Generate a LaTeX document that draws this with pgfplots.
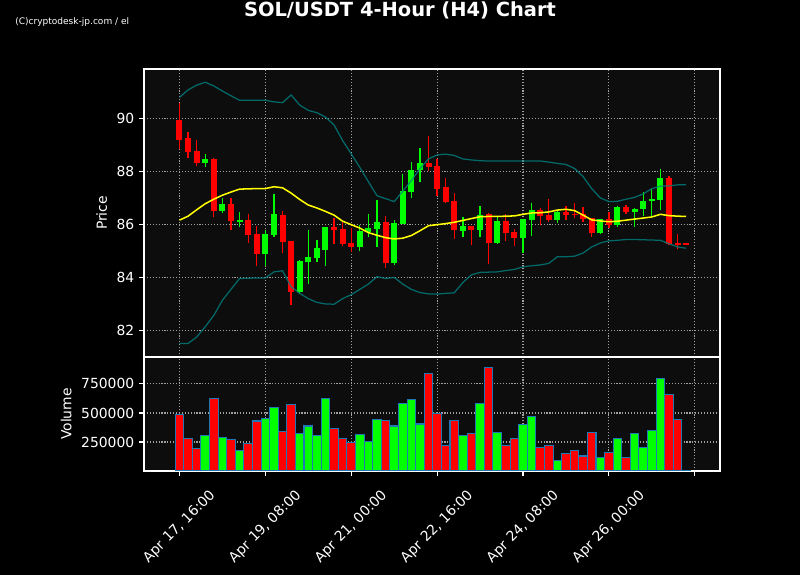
\documentclass[border=0pt]{standalone}
\usepackage{fontspec}
\setmainfont{DejaVu Sans}
\usepackage{pgfplots}
\pgfplotsset{compat=1.18}
\usepackage{pgfplotstable}

\definecolor{upgreen}{RGB}{0,255,0}
\definecolor{downred}{RGB}{255,0,0}
\definecolor{bbteal}{RGB}{0,128,128}
\definecolor{smayellow}{RGB}{255,255,0}
\definecolor{axbg}{RGB}{13,13,13}
\definecolor{gridgray}{RGB}{160,160,160}
\definecolor{edgeblue}{RGB}{31,119,180}

% candles: index, open, high, low, close, volume
\pgfplotstableread{
i o h l c v
3 88.33 88.65 88.15 88.47 302000
5 86.52 86.98 86.42 86.77 290000
7 86.09 86.45 85.91 86.18 178000
10 84.89 85.79 84.44 85.64 454000
11 85.60 87.13 85.53 86.39 549000
14 83.46 84.65 83.37 84.62 325000
15 84.59 85.77 83.77 84.77 388000
16 84.74 85.40 84.57 85.11 302000
17 85.04 85.92 84.44 85.90 627000
21 85.16 85.99 85.00 85.75 316000
22 85.72 86.38 85.53 85.87 256000
23 85.84 86.91 85.16 86.09 445000
25 84.54 86.16 84.45 86.05 388000
26 86.01 87.89 86.00 87.26 583000
27 87.23 88.35 86.98 88.05 618000
28 88.05 88.87 87.58 88.33 405000
33 85.76 86.26 85.51 85.95 307000
35 85.80 86.69 85.53 86.35 583000
37 85.30 86.26 85.27 86.13 333000
40 85.50 86.20 84.94 86.20 402000
41 86.18 86.79 85.55 86.54 471000
44 86.18 86.49 86.04 86.47 92000
49 85.69 86.19 85.62 86.19 118000
51 85.97 86.71 85.91 86.65 282000
53 86.47 86.63 85.91 86.58 325000
54 86.57 87.21 86.32 86.88 204000
55 86.89 87.32 86.28 86.97 351000
56 86.93 88.08 86.53 87.75 799000
}\upcandles

\pgfplotstableread{
i o h l c v
0 89.94 90.57 88.84 89.18 489000
1 89.26 89.47 88.49 88.74 282000
2 88.77 89.17 88.21 88.33 196000
4 88.47 88.50 86.29 86.52 627000
6 86.77 86.98 85.79 86.14 273000
8 86.16 86.38 85.31 85.60 233000
9 85.64 85.95 84.44 84.89 431000
12 86.35 86.49 84.91 85.35 342000
13 85.37 85.39 82.96 83.46 575000
18 85.90 86.23 85.25 85.80 368000
19 85.82 86.13 85.19 85.26 282000
20 85.30 85.85 84.97 85.16 247000
24 86.09 86.30 84.34 84.54 437000
29 88.31 89.33 88.01 88.16 836000
30 88.20 88.45 87.08 87.33 497000
31 87.41 87.74 86.82 86.84 216000
32 86.88 87.17 85.46 85.79 437000
34 85.95 85.95 85.21 85.80 325000
36 86.40 86.42 84.49 85.30 894000
38 86.13 86.38 85.38 85.69 221000
39 85.71 85.81 85.17 85.50 282000
42 86.53 86.62 85.96 86.33 204000
43 86.35 86.94 86.10 86.16 221000
45 86.48 86.69 86.18 86.34 152000
46 86.40 86.79 86.25 86.34 178000
47 86.38 86.67 86.10 86.20 129000
48 86.24 86.24 85.53 85.69 333000
50 86.19 86.45 85.87 85.97 161000
52 86.65 86.75 86.41 86.47 118000
57 87.75 87.84 85.24 85.26 661000
58 85.28 85.62 85.06 85.24 445000
59 85.28 85.28 85.22 85.22 5000
}\downcandles

% SMA 20 and Bollinger bands
\pgfplotstableread{
i m u lo
0 86.16 90.79 81.51
1 86.31 91.07 81.51
2 86.55 91.25 81.75
3 86.78 91.36 82.14
4 86.95 91.22 82.57
5 87.10 91.03 83.14
6 87.22 90.85 83.55
7 87.33 90.68 83.96
8 87.34 90.68 83.97
9 87.35 90.68 83.98
10 87.35 90.68 83.98
11 87.42 90.62 84.21
12 87.38 90.59 84.25
13 87.18 90.88 83.65
14 86.94 90.50 83.40
15 86.73 90.30 83.20
16 86.62 90.21 83.06
17 86.49 90.05 83.00
18 86.35 89.75 82.99
19 86.12 89.16 83.20
20 85.99 88.66 83.35
21 85.86 88.15 83.55
22 85.69 87.61 83.75
23 85.59 87.08 84.03
24 85.50 86.97 83.96
25 85.45 86.86 84.00
26 85.48 87.25 83.75
27 85.58 87.65 83.55
28 85.76 88.10 83.43
29 85.95 88.47 83.38
30 85.99 88.62 83.37
31 86.03 88.65 83.40
32 86.08 88.60 83.42
33 86.15 88.47 83.81
34 86.22 88.43 84.10
35 86.29 88.40 84.19
36 86.30 88.39 84.20
37 86.30 88.39 84.21
38 86.31 88.39 84.26
39 86.32 88.39 84.30
40 86.38 88.39 84.40
41 86.43 88.39 84.44
42 86.44 88.39 84.47
43 86.47 88.35 84.53
44 86.54 88.30 84.78
45 86.57 88.26 84.78
46 86.52 88.11 84.80
47 86.35 87.80 84.92
48 86.17 87.35 85.15
49 86.13 87.00 85.30
50 86.10 86.86 85.38
51 86.12 86.87 85.40
52 86.16 86.95 85.43
53 86.20 87.02 85.43
54 86.24 87.15 85.42
55 86.28 87.35 85.41
56 86.38 87.44 85.40
57 86.33 87.45 85.27
58 86.31 87.49 85.15
59 86.30 87.50 85.10
}\bands

\pgfplotsset{
  darkax/.style={
    scale only axis, width=414.72pt, anchor=south west,
    xmin=-4.13, xmax=62.94,
    axis background/.style={fill=axbg},
    axis line style={white, line width=0.8pt},
    tick align=outside, tick pos=left,
    major tick length=3.5pt,
    every tick/.style={white, line width=0.8pt},
    ticklabel style={white, font=\fontsize{10}{12}\selectfont},
    label style={white, font=\fontsize{10}{12}\selectfont},
    /pgf/number format/assume math mode=true,
    grid=major,
    major grid style={gridgray, line width=0.8pt, dash pattern=on 0.8pt off 1.3pt},
    xtick={0,10,...,60},
  },
  candle/.style={only marks, mark=*, mark size=0pt,
    mark options={draw opacity=0, fill opacity=0}, forget plot,
    error bars/.cd, y dir=plus, y explicit, error mark=none,
    error bar style={#1}},
}

\begin{document}
\begin{tikzpicture}
\fill[black] (0,0) rectangle (576pt,414pt);
\node[anchor=base, white, inner sep=0pt, font=\fontsize{14}{16}\selectfont\bfseries] at (288pt,401.8pt) {SOL/USDT 4-Hour (H4) Chart};
\node[anchor=base west, white, inner sep=0pt, font=\fontsize{6.5}{7}\selectfont] at (10.8pt,396.4pt) {(C)cryptodesk-jp.com / el};

\begin{axis}[darkax,
  height=207.36pt, at={(103.68pt,156.96pt)},
  ymin=81.0, ymax=91.86,
  ytick={82,84,86,88,90},
  xticklabels={},
  ylabel=Price,
]
% wicks
\addplot[candle={upgreen, line width=0.9pt}]
  table[x=i, y=l, y error expr=\thisrow{h}-\thisrow{l}] {\upcandles};
\addplot[candle={downred, line width=0.9pt}]
  table[x=i, y=l, y error expr=\thisrow{h}-\thisrow{l}] {\downcandles};
% bodies
\addplot[candle={upgreen, line width=4.3pt}]
  table[x=i, y=o, y error expr=\thisrow{c}-\thisrow{o}] {\upcandles};
\addplot[candle={downred, line width=4.3pt}]
  table[x=i, y=c, y error expr=\thisrow{o}-\thisrow{c}] {\downcandles};
% indicators
\addplot[bbteal, opacity=0.8, line width=0.9pt] table[x=i, y=u] {\bands};
\addplot[bbteal, opacity=0.8, line width=0.9pt] table[x=i, y=lo] {\bands};
\addplot[smayellow, line width=1.1pt] table[x=i, y=m] {\bands};
\end{axis}

\begin{axis}[darkax,
  height=82.08pt, at={(103.68pt,74.88pt)},
  ymin=0, ymax=982000,
  scaled y ticks=false,
  ytick={250000,500000,750000},
  yticklabels={250000,500000,750000},
  xticklabels={Apr 17{,} 16:00, Apr 19{,} 08:00, Apr 21{,} 00:00, Apr 22{,} 16:00, Apr 24{,} 08:00, Apr 26{,} 00:00, {}},
  xticklabel style={yshift=-36.7pt, rotate=45, anchor=center},
  ylabel=Volume,
]
\addplot[ybar, bar width=1, bar shift=0pt, fill=upgreen, draw=edgeblue, line width=0.8pt]
  table[x=i, y=v] {\upcandles};
\addplot[ybar, bar width=1, bar shift=0pt, fill=downred, draw=edgeblue, line width=0.8pt]
  table[x=i, y=v] {\downcandles};
\end{axis}
\end{tikzpicture}
\end{document}
